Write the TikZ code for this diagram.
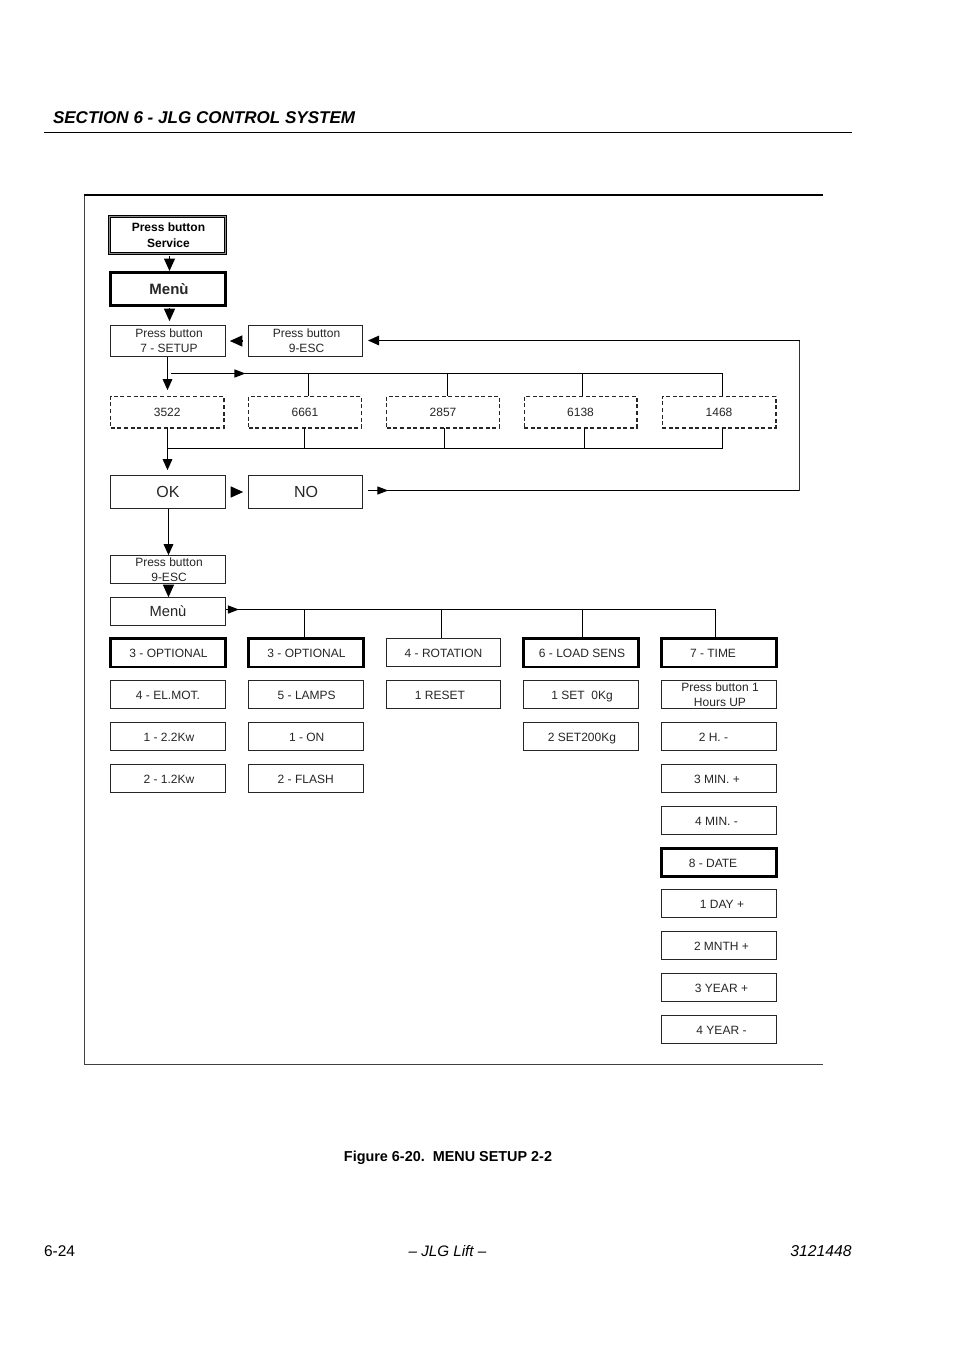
\documentclass[tikz,border=0pt]{standalone}
\usepackage{fontspec}
\setmainfont{Liberation Sans}
\usetikzlibrary{arrows.meta,decorations.markings}
\definecolor{ink}{gray}{0.15}
\newcommand{\bx}[8]{%
  \pgfmathsetmacro{\bxw}{#5-#3-0.4}\pgfmathsetmacro{\bxh}{#6-#4-0.4}%
  \pgfmathsetmacro{\bxcx}{(#3+#5)/2}\pgfmathsetmacro{\bxcy}{(#4+#6)/2}\pgfmathsetmacro{\bxk}{2*#7}%
  \node[#1,minimum width=\bxw pt,minimum height=\bxh pt] (#2) at (\bxcx,\bxcy) {\hspace*{\bxk pt}#8};%
}
\newcommand{\sk}{\hspace*{2pt}}
\tikzset{
  base/.style={draw=ink,text=ink,inner sep=0pt,outer sep=0pt,align=center,font=\fontsize{12}{15}\selectfont},
  boxthin/.style={base,line width=1.3pt},
  boxbold/.style={base,draw=black,line width=2.8pt},
  rowt/.style={text height=10pt,text depth=0.4pt},
  rowthin/.style={boxthin,rowt},
  rowbold/.style={boxbold,rowt},
  boxdash/.style={base,line width=1.4pt,dash pattern=on 4pt off 2.6pt},
  boxdouble/.style={base,text=black,draw=black,line width=1pt,double=black!45,double distance=1.4pt,font=\fontsize{12}{15}\selectfont\bfseries},
  big/.style={font=\fontsize{16}{18}\selectfont},
  conn/.style={draw=black,line width=1.25pt},
  arr/.style={conn,-{Triangle[length=11pt,width=9.5pt]}},
  solo/.style={conn,-{Triangle[length=12.5pt,width=11pt]}},
  midtip/.style={conn,postaction={decorate},decoration={markings,mark=at position #1 with {\arrow{Triangle[length=11pt,width=8pt]}}}},
  framel/.style={draw=black!75,line width=1pt},
  frametop/.style={draw=black,line width=2pt},
  pagetxt/.style={text=black,inner sep=0pt,outer sep=0pt}
}
\begin{document}
\begin{tikzpicture}[x=1pt,y=-1pt]
\useasboundingbox (0,0) rectangle (954,1350);
\fill[white] (0,0) rectangle (954,1350);
% page furniture
\node[pagetxt,anchor=west,font=\fontsize{17.05}{20}\selectfont\bfseries\itshape] (head) at (53,117.8) {SECTION 6 - JLG CONTROL SYSTEM};
\coordinate (ruleL) at (44,132.5); \coordinate (ruleR) at (852,132.5);
\draw[black,line width=1pt] (ruleL) -- (ruleR);
\node[pagetxt,anchor=center,font=\fontsize{14.4}{16}\selectfont\bfseries] (cap) at (448,1157.5) {Figure 6-20.\ \ MENU SETUP 2-2};
\node[pagetxt,anchor=west,font=\fontsize{15.5}{17}\selectfont] (fl) at (44,1251) {6-24};
\node[pagetxt,anchor=center,font=\fontsize{15.2}{17}\selectfont\itshape] (fc) at (447.5,1251) {– JLG Lift –};
\node[pagetxt,anchor=east,font=\fontsize{15.7}{17}\selectfont\itshape] (fr) at (851.5,1251) {3121448};
% frame
\coordinate (fTL) at (84,194.5); \coordinate (fTR) at (823,194.5);
\coordinate (fBL) at (84.5,1064.5); \coordinate (fBR) at (823,1064.5);
\draw[framel] (fTL -| fBL) -- (fBL) -- (fBR);
\draw[frametop] (fTL) -- (fTR);
% top column
\bx{boxdouble}{service}{109.1}{216.1}{225.8}{253.9}{0}{\sk Press button\\[0.5pt]\sk Service}
\bx{boxbold}{menua}{110.3}{272.3}{225.7}{305.7}{1}{\fontsize{15}{18}\selectfont\bfseries Menù}
\bx{boxthin}{setup}{110}{325}{226}{357}{0}{\sk Press button\\\sk 7 - SETUP}
\bx{boxthin}{esc}{248}{325}{363}{357}{0}{\sk Press button\\\sk 9-ESC}
% codes
\bx{boxdash}{ca}{110.5}{396}{224}{428}{0}{3522}
\bx{boxdash}{cb}{248.5}{396}{361.5}{428}{0}{6661}
\bx{boxdash}{cc}{386.5}{396}{499.5}{428}{0}{2857}
\bx{boxdash}{cd}{524}{396}{637}{428}{0}{6138}
\bx{boxdash}{ce}{662}{396}{776}{428}{0}{1468}
\bx{boxthin,big}{ok}{110}{475}{226}{509}{0}{OK}
\bx{boxthin,big}{no}{248}{475}{363}{509}{0.5}{NO}
\bx{boxthin}{esctwo}{110}{555}{226}{584}{0}{\sk Press button\\\sk 9-ESC}
\bx{boxthin,font=\fontsize{14.7}{17}\selectfont}{menub}{110}{597}{226}{626}{0}{Menù}
% column 1
\bx{rowbold}{ao}{110.3}{638.3}{225.7}{667.2}{0.5}{3 - OPTIONAL}
\bx{rowthin}{ap}{110}{680}{226}{709}{0}{4 - EL.MOT.}
\bx{rowthin}{aq}{110}{722}{226}{751}{1}{1 - 2.2Kw}
\bx{rowthin}{ar}{110}{764}{226}{793}{1}{2 - 1.2Kw}
% column 2
\bx{rowbold}{bo}{248.3}{638.3}{363.7}{667.2}{0.5}{3 - OPTIONAL}
\bx{rowthin}{bp}{248}{680}{363.5}{709}{1}{5 - LAMPS}
\bx{rowthin}{bq}{248}{722}{363.5}{751}{1}{1 - ON}
\bx{rowthin}{br}{248}{764}{363.5}{793}{0}{2 - FLASH}
% column 3
\bx{rowthin}{co}{386}{638}{501}{667}{0}{4 - ROTATION}
\bx{rowthin}{cp}{386}{680}{501}{709}{-3.5}{1 RESET}
% column 4
\bx{rowbold}{do}{523.3}{638.3}{638.7}{667.2}{1}{6 - LOAD SENS}
\bx{rowthin}{dp}{523}{680}{639}{709}{1}{1 SET\ \ 0Kg}
\bx{rowthin}{dq}{523}{722}{639}{751}{1}{2 SET200Kg}
% column 5
\bx{rowbold}{eo}{661.3}{638.3}{776.7}{667.2}{-6}{7 - TIME}
\bx{boxthin}{ep}{661}{680}{777}{709}{0}{\sk Press button 1\\\sk Hours UP}
\bx{rowthin}{eq}{661}{722}{777}{751}{-5.5}{2 H. -}
\bx{rowthin}{er}{661}{764}{777}{793}{-2}{3 MIN. +}
\bx{rowthin}{es}{661}{806}{777}{835}{-2.5}{4 MIN. -}
\bx{rowbold}{et}{661.3}{848}{776.7}{876.7}{-6}{8 - DATE}
\bx{rowthin}{eu}{661}{889}{777}{918}{3}{1 DAY +}
\bx{rowthin}{ev}{661}{931}{777}{960}{2.5}{2 MNTH +}
\bx{rowthin}{ew}{661}{973}{777}{1002}{2.5}{3 YEAR +}
\bx{rowthin}{ex}{661}{1015}{777}{1044}{2.5}{4 YEAR -}
% connectors: plain arrowheads between stacked boxes
\coordinate (xs) at (169.5,0);
\draw[solo,shorten >=1.5pt,shorten <=2.5pt] (service.south -| xs) -- (menua.north -| xs);
\draw[solo,shorten >=4pt,shorten <=2.5pt] (menua.south -| xs) -- (setup.north -| xs);
\draw[solo,shorten >=4pt,shorten <=6pt] (esc.west) -- (setup.east);
\draw[solo,shorten >=5pt,shorten <=6pt] (ok.east) -- (no.west);
% setup to codes
\coordinate (xa) at (167.5,0);
\draw[arr,shorten >=6pt] (setup.south -| xa) -- (ca.north -| xa);
\coordinate (busL) at (171,373.5);
\coordinate (busR) at (722.5,373.5);
\coordinate (busB) at (582.5,373.5); \coordinate (busC) at (447.5,373.5); \coordinate (busD) at (308.5,373.5);
\draw[midtip=0.135] (busL) -- (busR);
\draw[conn] (busD) -- (busD |- cb.north);
\draw[conn] (busC) -- (busC |- cc.north);
\draw[conn] (busB) -- (busB |- cd.north);
\draw[conn] (busR) -- (busR |- ce.north);
% codes to OK
\coordinate (lowA) at (167.5,448.5); \coordinate (lowE) at (722.5,448.5);
\coordinate (lowB) at (304.5,448.5); \coordinate (lowC) at (444.5,448.5); \coordinate (lowD) at (584.5,448.5);
\draw[conn] (lowA |- ca.south) -- (lowA);
\draw[arr,shorten >=5pt] (lowA) -- (lowA |- ok.north);
\draw[conn] (lowA) -- (lowE) -- (lowE |- ce.south);
\draw[conn] (lowB) -- (lowB |- cb.south);
\draw[conn] (lowC) -- (lowC |- cc.south);
\draw[conn] (lowD) -- (lowD |- cd.south);
% NO back to 9-ESC
\coordinate (noS) at (368,490.5); \coordinate (retB) at (799.5,490.5); \coordinate (retT) at (799.5,340.5); \coordinate (escE) at (368,340.5);
\draw[midtip=0.047] (noS) -- (retB);
\draw[conn,draw=black!80] (retB) -- (retT);
\draw[arr] (retT) -- (escE);
% OK down to menu
\draw[arr] (ok.south -| xs) ++(-1,0) coordinate (oks) -- (oks |- esctwo.north);
\draw[solo,shorten <=1pt] (esctwo.south -| oks) -- (menub.north -| oks);
% menu bus
\coordinate (mS) at (226,609.5); \coordinate (mE) at (715.5,609.5);
\coordinate (mB) at (304.5,609.5); \coordinate (mC) at (441.5,609.5); \coordinate (mD) at (582.5,609.5);
\draw[midtip=0.025] (mS) -- (mE) -- (mE |- eo.north);
\draw[conn] (mB) -- (mB |- bo.north);
\draw[conn] (mC) -- (mC |- co.north);
\draw[conn] (mD) -- (mD |- do.north);
\end{tikzpicture}
\end{document}
